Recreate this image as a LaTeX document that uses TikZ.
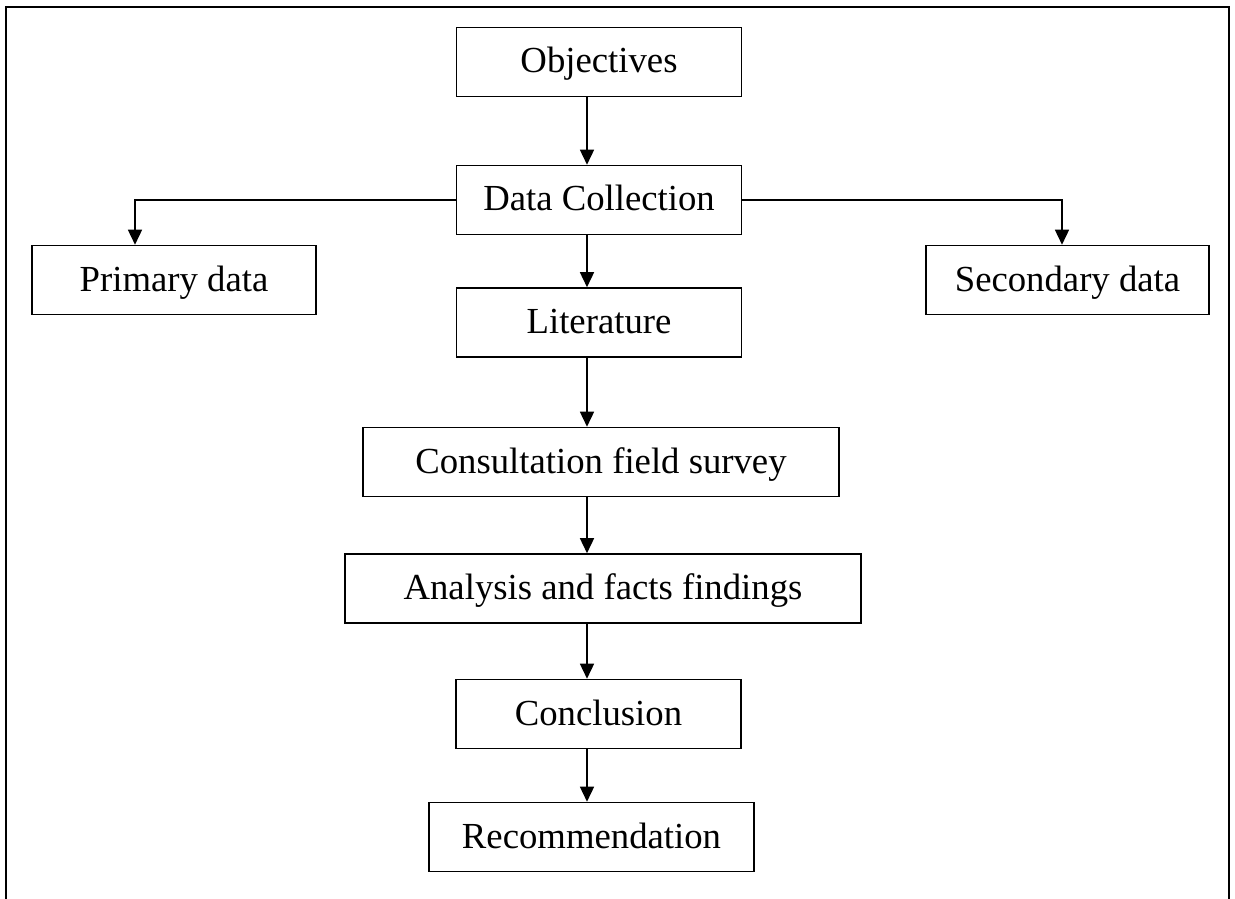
\documentclass[tikz,border=0pt]{standalone}
\usepackage{fontspec}
\setmainfont{Liberation Serif}
\usepackage{tikz}
\usetikzlibrary{arrows.meta}

\tikzset{
  stage/.style={draw,line width=0.9pt,inner sep=0pt,minimum height=1.38cm,
    text height=0.48cm,text depth=0.04cm,
    font=\fontsize{20.9}{25}\selectfont},
}

\begin{document}
\begin{tikzpicture}[x=0.02cm,y=-0.02cm]
\useasboundingbox (0,0) rectangle (1235,899);
\begin{scope}[>={Triangle[length=0.3cm,width=0.28cm]},line width=0.85pt]
    % outer frame, open at the bottom
    \draw[line width=0.65pt] (6,899) -- (6,7) -- (1229,7) -- (1229,899);

    \coordinate (col) at (587,0);
    \coordinate (pl) at (135,0);
    \coordinate (pr) at (1062,0);

    \node[stage,minimum width=5.70cm] (obj) at (599,62) {Objectives};
    \node[stage,minimum width=5.70cm] (dc) at (599,200) {Data Collection};
    \node[stage,minimum width=5.68cm] (prim) at (174,280) {Primary data};
    \node[stage,minimum width=5.66cm] (sec) at (1067.5,280) {Secondary data};
    \node[stage,minimum width=5.70cm] (lit) at (599,322.5) {Literature};
    \node[stage,minimum width=9.52cm] (cfs) at (601,462) {Consultation field survey};
    \node[stage,minimum width=10.32cm] (aff) at (603,588.5) {Analysis and facts findings};
    \node[stage,minimum width=5.70cm] (con) at (598.5,714) {Conclusion};
    \node[stage,minimum width=6.50cm] (rec) at (591.5,837) {Recommendation};

    \draw[->] (obj.south -| col) -- (dc.north -| col);
    \draw[->] (dc.west) -| (prim.north -| pl);
    \draw[->] (dc.east) -| (sec.north -| pr);
    \draw[->] (dc.south -| col) -- (lit.north -| col);
    \draw[->] (lit.south -| col) -- (cfs.north -| col);
    \draw[->] (cfs.south -| col) -- (aff.north -| col);
    \draw[->] (aff.south -| col) -- (con.north -| col);
    \draw[->] (con.south -| col) -- (rec.north -| col);
\end{scope}
\end{tikzpicture}
\end{document}
